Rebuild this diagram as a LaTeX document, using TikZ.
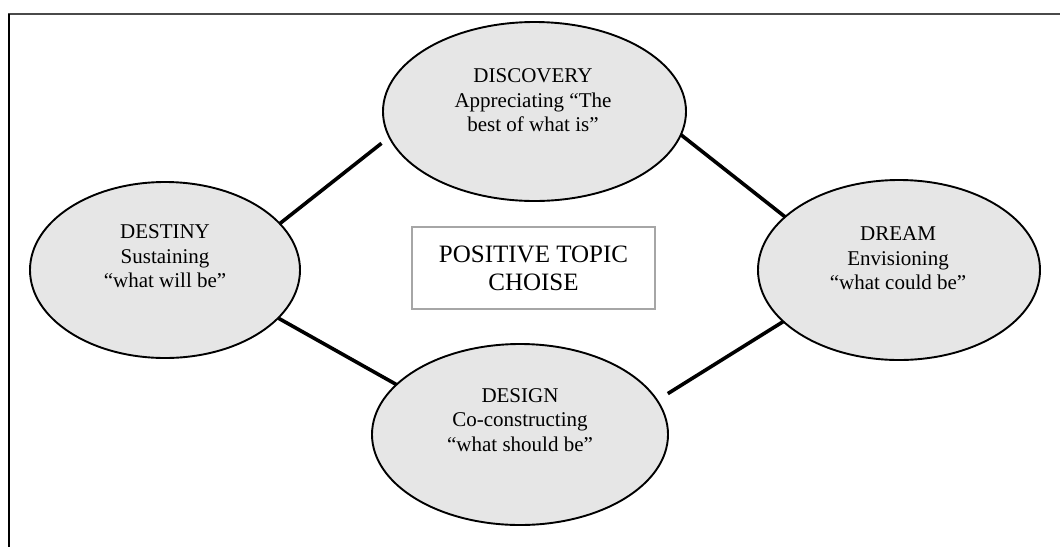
\documentclass[tikz,border=0pt]{standalone}
\usepackage{fontspec}
\setmainfont{Liberation Serif}
\usetikzlibrary{shapes.geometric}
\definecolor{ellfill}{HTML}{E6E6E6}
\definecolor{framegray}{HTML}{4A4A4A}
\definecolor{boxgray}{HTML}{A6A6A6}
\begin{document}
\begin{tikzpicture}[x=1pt,y=1pt,
  phase/.style={ellipse, draw=black, line width=1.9pt, fill=ellfill, inner sep=0pt, outer sep=0pt},
  phasetext/.style={align=center, inner sep=0pt, text=black, font=\fontsize{21pt}{24.5pt}\selectfont},
  link/.style={line width=3.6pt, draw=black},
  topicbox/.style={draw=boxgray, line width=2.2pt, fill=white, inner sep=0pt, align=center,
    minimum width=243pt, minimum height=82pt, font=\fontsize{25pt}{28pt}\selectfont}
]
\useasboundingbox (0,0) rectangle (1060,-547);
% frame (top and left edges only)
\coordinate (ftl) at (9,-14);
\coordinate (ftr) at (1060,-14);
\coordinate (fbl) at (9,-547);
\coordinate (ftl0) at (8,-14);
\draw[framegray, line width=2pt] (ftl0) -- (ftr);
\draw[black, line width=1.8pt] (ftl) -- (fbl);

% phases
\node[phase, minimum width=303pt, minimum height=179pt] (disc) at (534.5,-111.5) {};
\node[phase, minimum width=270pt, minimum height=176pt] (dest) at (165,-270) {};
\node[phase, minimum width=282pt, minimum height=180pt] (dream) at (899,-270) {};
\node[phase, minimum width=296pt, minimum height=181pt] (design) at (520,-434.5) {};

\node[phasetext] (disct) at (533,-100.6) {DISCOVERY\\Appreciating “The\\best of what is”};
\node[phasetext] (destt) at (165,-256.5) {DESTINY\\Sustaining\\“what will be”};
\node[phasetext] (dreamt) at (898,-258.5) {DREAM\\Envisioning\\“what could be”};
\node[phasetext] (designt) at (520,-420) {DESIGN\\Co-constructing\\“what should be”};

% centre box
\node[topicbox] (topic) at (533.5,-268) {POSITIVE TOPIC\\CHOISE};

% connectors
\draw[link, shorten >=10pt] (dest.22.8) -- (disc.190.4);
\draw[link] (disc.-9.4) -- (dream.155.1);
\draw[link] (dest.-23.1) -- (design.158);
\draw[link, shorten >=12.7pt] (dream.204.3) -- (design.14.6);
\end{tikzpicture}
\end{document}
